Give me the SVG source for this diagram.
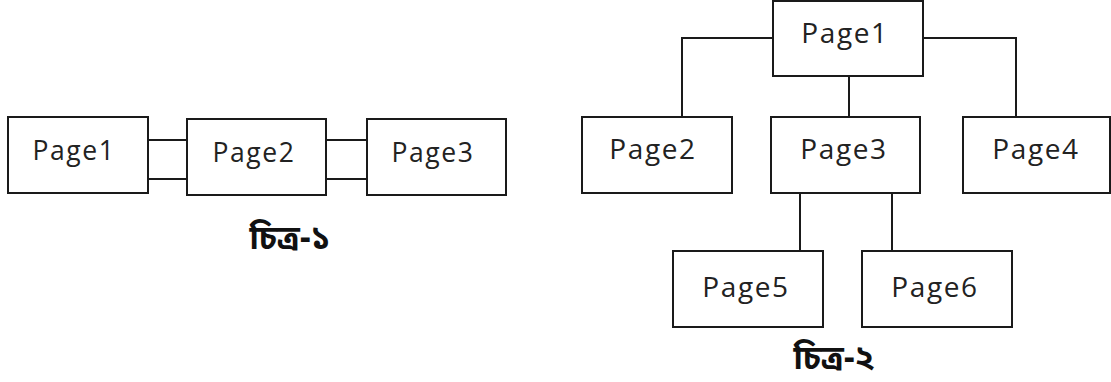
<svg xmlns="http://www.w3.org/2000/svg" width="1111" height="382" viewBox="0 0 1111 382">
<style>
.box{fill:#fff;stroke:#1a1a1a;stroke-width:2}
.ln{fill:none;stroke:#1a1a1a;stroke-width:2}
.t1{font-family:"Open Sans","Liberation Sans",sans-serif;font-size:26.5px;letter-spacing:1.6px;fill:#222;text-anchor:middle}
.t2{font-family:"Open Sans","Liberation Sans",sans-serif;font-size:28px;letter-spacing:1.6px;fill:#222;text-anchor:middle}
.cap{font-family:"Noto Sans Bengali","Noto Serif Bengali","Lohit Bengali","Noto Sans",sans-serif;font-size:33px;font-weight:bold;fill:#111;text-anchor:middle}
</style>
<rect width="1111" height="382" fill="#fff"/>
<g id="connectors">
<path class="ln" d="M144 140H191M144 179H191M323 140H370M323 179H370"/>
<path class="ln" stroke-width="1" d="M144 137V143M191 137V143M144 176V182M191 176V182M323 137V143M370 137V143M323 176V182M370 176V182"/>
<path class="ln" d="M773 38H682V117M923 38H1016V117M849 76V117M800 193V251M892 193V251"/>
</g>
<g id="f1-page1"><rect class="box" x="8" y="117" width="140" height="76"/><text class="t1" x="74" y="160">Page1</text></g>
<g id="f1-page2"><rect class="box" x="187" y="119" width="139" height="76"/><text class="t1" x="254" y="162">Page2</text></g>
<g id="f1-page3"><rect class="box" x="367" y="119" width="139" height="76"/><text class="t1" x="433" y="162">Page3</text></g>
<g id="caption1"><text class="cap" x="290" y="249">চিত্র-১</text></g>
<g id="f2-page1"><rect class="box" x="773" y="1" width="150" height="75"/><text class="t2" x="845" y="43">Page1</text></g>
<g id="f2-page2"><rect class="box" x="582" y="117" width="150" height="76"/><text class="t2" x="653" y="159">Page2</text></g>
<g id="f2-page3"><rect class="box" x="771" y="117" width="149" height="76"/><text class="t2" x="844" y="159">Page3</text></g>
<g id="f2-page4"><rect class="box" x="963" y="117" width="147" height="76"/><text class="t2" x="1036" y="159">Page4</text></g>
<g id="f2-page5"><rect class="box" x="673" y="251" width="150" height="76"/><text class="t2" x="746" y="297">Page5</text></g>
<g id="f2-page6"><rect class="box" x="862" y="251" width="150" height="76"/><text class="t2" x="935" y="297">Page6</text></g>
<g id="caption2"><text class="cap" x="834" y="369">চিত্র-২</text></g>
</svg>
